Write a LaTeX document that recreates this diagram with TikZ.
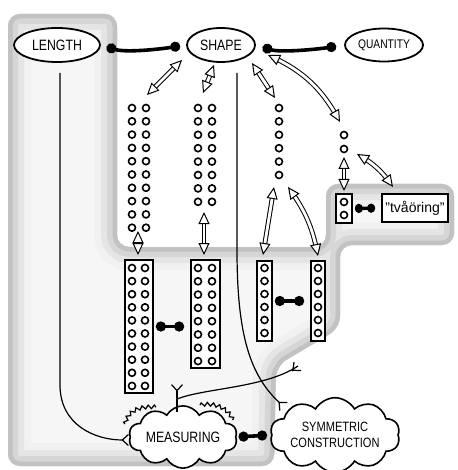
\documentclass[tikz,border=0pt]{standalone}
\usepackage{fontspec}
\setmainfont{Liberation Sans}
\newfontfamily\hand{Liberation Sans}[FakeStretch=0.82]
\usetikzlibrary{shapes.geometric,shapes.symbols,arrows.meta,decorations.markings,decorations.pathmorphing,calc}
\newcommand\regionpath{(8,14) -- (117,14) -- (117,247) -- (326,247) -- (326,184) -- (454,184) -- (454,245) -- (340,245) -- (340,328) -- (276,366) -- (274,466) -- (8,466) -- cycle}
\begin{document}
\begin{tikzpicture}[x=1pt,y=-1pt,
  lbl/.style={draw, ellipse, fill=white, line width=1.8pt, inner sep=0pt, font=\hand\fontsize{15}{17}\selectfont},
  cloudy/.style={draw, cloud, fill=white, cloud puffs=10, cloud puff arc=120, aspect=2.3, line width=1.6pt, inner sep=0pt, align=center, font=\hand\fontsize{15}{17}\selectfont},
  box/.style={draw, rectangle, fill=white, line width=1.7pt, inner sep=0pt},
  dot/.style={line width=1.6pt},
  dumbbell/.style={line width=3.6pt, {Circle[length=10pt,width=10pt]}-{Circle[length=10pt,width=10pt]}},
  dbl/.style={double=white, double distance=2.8pt, line width=1pt, shorten <=5pt, shorten >=5pt,
    postaction={decorate, decoration={markings,
      mark=at position 0 with {\arrowreversed[line width=1pt]{Triangle[length=12pt, width=11pt, fill=white]}},
      mark=at position 1 with {\arrow[line width=1pt]{Triangle[length=12pt, width=11pt, fill=white]}}}}},
  fork/.style={line width=1.2pt, -{Straight Barb[reversed,length=6pt,width=11pt]}},
  scallop/.style={line width=1.2pt, decorate, decoration={zigzag, segment length=6pt, amplitude=1.8pt}}]
\fill[white] (0,0) rectangle (457,470);
\useasboundingbox (0,0) rectangle (457,470);
% shaded region
\begin{scope}
  \clip[rounded corners=12pt] \regionpath;
  \fill[gray!7] (0,0) rectangle (457,470);
  \draw[gray!11, line width=46pt, rounded corners=12pt] \regionpath;
  \draw[gray!20, line width=32pt, rounded corners=12pt] \regionpath;
  \draw[gray!32, line width=20pt, rounded corners=12pt] \regionpath;
  \draw[gray!48, line width=9pt, rounded corners=12pt] \regionpath;
\end{scope}
% top labels
\node[lbl, minimum width=86pt, minimum height=34pt] (LENGTH) at (57,45) {LENGTH};
\node[lbl, minimum width=68pt, minimum height=34pt] (SHAPE) at (221,45) {SHAPE};
\node[lbl, minimum width=78pt, minimum height=33pt, font=\hand\fontsize{12.5}{14}\selectfont] (QUANT) at (384,45) {QUANTITY};
% clouds
\node[cloudy, minimum width=96pt, minimum height=46pt] (MEAS) at (183,437) {MEASURING};
\node[cloudy, minimum width=122pt, minimum height=52pt, font=\hand\fontsize{13.5}{15.5}\selectfont] (SYM) at (335,435) {SYMMETRIC\\CONSTRUCTION};
% rectangles
\node[box, minimum width=28pt, minimum height=133pt] (R1) at (139,326.5) {};
\node[box, minimum width=29pt, minimum height=108pt] (R2) at (205.5,314) {};
\node[box, minimum width=15pt, minimum height=80pt] (R3) at (264.5,301) {};
\node[box, minimum width=14pt, minimum height=80pt] (R4) at (318,301) {};
\node[box, minimum width=16pt, minimum height=29pt] (B) at (344,208.5) {};
\node[box, minimum width=66pt, minimum height=28pt, font=\fontsize{14}{16}\selectfont] (T) at (415,208) {”tvåöring”};
% dots
\foreach \k in {0,...,9} {
  \draw[dot] (132,{108+13.3*\k}) circle (3.5pt);
  \draw[dot] (146,{108+13.3*\k}) circle (3.5pt);
  \draw[dot] (132,{268+13.1*\k}) circle (3.5pt);
  \draw[dot] (145,{268+13.1*\k}) circle (3.5pt);
}
\foreach \k in {0,...,7} {
  \draw[dot] (198,{108+13.4*\k}) circle (3.5pt);
  \draw[dot] (212,{108+13.4*\k}) circle (3.5pt);
  \draw[dot] (198,{268+13.3*\k}) circle (3.5pt);
  \draw[dot] (212,{268+13.3*\k}) circle (3.5pt);
}
\foreach \k in {0,...,5} {
  \draw[dot] (279,{108+13.4*\k}) circle (3.5pt);
  \draw[dot] (264.5,{268+13*\k}) circle (3.5pt);
  \draw[dot] (318,{268+13*\k}) circle (3.5pt);
}
\draw[dot] (344,135) circle (3.5pt);
\draw[dot] (344,149) circle (3.5pt);
\draw[dot] (344,202) circle (3.5pt);
\draw[dot] (344,215) circle (3.5pt);
% dumbbells
\draw[dumbbell, shorten <=6pt, shorten >=6pt] (LENGTH.east) .. controls +(25,8) and +(-25,4) .. (SHAPE.west);
\draw[dumbbell, shorten <=7pt, shorten >=8pt] (SHAPE.east) .. controls +(25,8) and +(-25,4) .. (QUANT.west);
\draw[dumbbell, shorten <=2pt, shorten >=6pt] (R1.east) -- (R1.east -| R2.west);
\draw[dumbbell, shorten <=2pt, shorten >=6pt] (R3.east) -- (R4.west);
\draw[dumbbell, line width=3.4pt, {Circle[length=8pt,width=9pt]}-{Circle[length=8pt,width=9pt]}, shorten <=2pt, shorten >=6pt] (B.east) -- (T.west);
\draw[dumbbell, shorten <=2pt, shorten >=4pt] (MEAS.east) -- (SYM.west);
% double arrows
\coordinate (a1s) at (147,95); \coordinate (a1e) at (182,60);
\coordinate (a2s) at (203,93); \coordinate (a2e) at (214,65);
\coordinate (a3s) at (252,63); \coordinate (a3e) at (275,98);
\coordinate (a4s) at (268,55); \coordinate (a4e) at (340,122);
\draw[dbl] (a1s) -- (a1e);
\draw[dbl] (a2s) -- (a2e);
\draw[dbl] (a3s) -- (a3e);
\draw[dbl] (a4s) to[bend left=18] (a4e);
\coordinate (b1s) at (138,231); \coordinate (b1e) at (138,255);
\coordinate (b2s) at (204,212); \coordinate (b2e) at (204,255);
\coordinate (b3s) at (274,187); \coordinate (b3e) at (263,255);
\coordinate (b4s) at (288,187); \coordinate (b4e) at (318,256);
\draw[dbl] (b1s) -- (b1e);
\draw[dbl] (b2s) -- (b2e);
\draw[dbl] (b3s) -- (b3e);
\draw[dbl] (b4s) to[bend left=12] (b4e);
\coordinate (c1s) at (344,157); \coordinate (c1e) at (344,191);
\coordinate (c2s) at (357,154); \coordinate (c2e) at (393,187);
\draw[dbl] (c1s) -- (c1e);
\draw[dbl] (c2s) to[bend left=12] (c2e);
% thin connectors with forks
\coordinate (Lend) at (129,440);
\draw[fork] ([xshift=3pt,yshift=-10pt]LENGTH.south) -- (60,385) .. controls (60,425) and (95,440) .. (Lend);
\coordinate (Send) at (284,407);
\draw[fork] ([xshift=16pt,yshift=-10pt]SHAPE.south) -- (237,250) .. controls (237,335) and (250,375) .. (Send);
\coordinate (Mtop) at (177,412);
\coordinate (Mfork) at (177,384);
\coordinate (Mjoin) at (177,399);
\coordinate (Rend) at (298,366);
\draw[fork] (Mtop) -- (Mfork);
\draw[line width=1.2pt] (Mjoin) .. controls (205,388) and (265,388) .. (Rend);
\draw[fork] (Rend) ++(-6,5) -- (Rend);
% scallop marks around MEASURING
\draw[scallop] (125,424) .. controls (128,410) and (140,406) .. (156,407);
\draw[scallop] (200,405) .. controls (215,402) and (228,408) .. (233,420);
\end{tikzpicture}
\end{document}
